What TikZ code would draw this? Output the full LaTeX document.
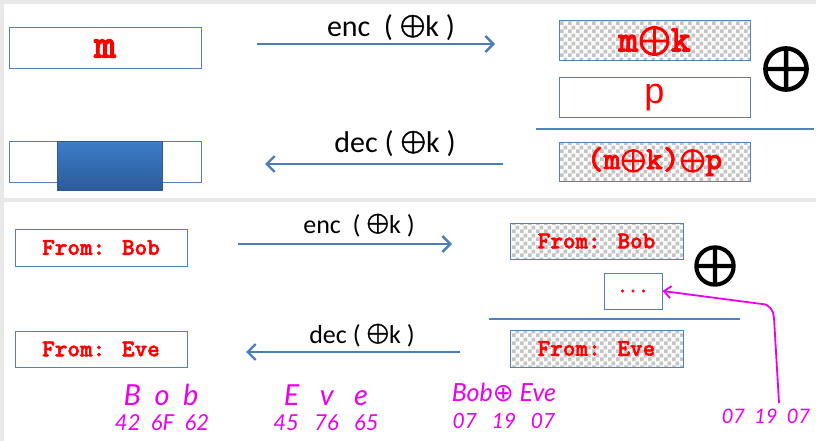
\documentclass[tikz,border=0pt]{standalone}
\usepackage{fontspec}
\usepackage{graphicx}
\setmainfont{Carlito}
\newfontfamily\psans{Liberation Sans}
\newfontfamily\symf{DejaVu Sans}
\newfontfamily\handf{Lato}
\newfontfamily\cour{lmmonolt10-bold.otf}[FakeBold=2.2]
\newfontfamily\opf{latinmodern-math.otf}[FakeBold=1.2]
\newfontfamily\opfb{latinmodern-math.otf}[FakeBold=3]
\usetikzlibrary{arrows.meta,patterns}
\definecolor{boxblue}{RGB}{79,129,189}
\definecolor{arrblue}{RGB}{74,126,187}
\definecolor{bggray}{RGB}{232,232,232}
\definecolor{inktop}{RGB}{61,124,201}
\definecolor{inkbot}{RGB}{44,92,152}
\definecolor{chkgray}{RGB}{196,196,196}
\definecolor{hand}{RGB}{236,0,236}
\pgfdeclarepatternformonly{checkfour}{\pgfpointorigin}{\pgfqpoint{8pt}{8pt}}{\pgfqpoint{8pt}{8pt}}{%
  \pgfpathrectangle{\pgfpointorigin}{\pgfqpoint{4pt}{4pt}}%
  \pgfpathrectangle{\pgfqpoint{4pt}{4pt}}{\pgfqpoint{4pt}{4pt}}%
  \pgfusepath{fill}}
% circled plus in labels
\newcommand{\bop}[2]{\raisebox{#2}{{\opf\fontsize{#1}{#1}\selectfont ⊕}}}
% bold circled plus for box texts
\newcommand{\xob}[1]{{\opfb\fontsize{#1}{#1}\selectfont ⊕}}
\begin{document}
\begin{tikzpicture}[x=1pt,y=-1pt,
  box/.style={draw=boxblue, line width=1pt, fill=white, inner sep=0pt, text=red},
  chk/.style={draw=boxblue, line width=1pt, inner sep=0pt, text=red,
     preaction={fill=white!96!gray}, pattern=checkfour, pattern color=chkgray},
  mono/.style={font=\cour\fontsize{#1}{#1}\selectfont},
  lbl/.style={anchor=base, inner sep=0pt, font=\fontsize{#1}{#1}\selectfont},
  arr/.style={draw=arrblue, line width=2.4pt, -{Straight Barb[length=8pt,width=16pt]}},
  sep/.style={draw=boxblue, line width=2.4pt},
  bigx/.style={inner sep=0pt, font=\opfb\fontsize{#1}{#1}\selectfont},
  hw/.style={anchor=base, inner sep=0pt, text=hand, font=\handf\itshape\fontsize{#1}{#1}\selectfont}
]
\useasboundingbox (0,0) rectangle (816,441);
\fill[bggray] (0,0) rectangle (816,441);
\fill[white] (4,4) rectangle (816,198);
\fill[white] (4,202) rectangle (816,441);

% ---------- top panel ----------
\node[box, minimum width=192, minimum height=41, mono=42] (m) at (105,48.5) {m};
\node[chk, minimum width=191, minimum height=40, mono=38] (mk) at (654.5,41) {m\xob{42}k};
\node[box, minimum width=191, minimum height=40, font=\psans\fontsize{36}{36}\selectfont] (p) at (654.5,98) {p};
\node[chk, minimum width=191, minimum height=39, mono=32] (mkp) at (654.5,161.5) {(m\xob{33}k)\xob{33}p};
\node[box, minimum width=192, minimum height=41] (blur) at (105,161.5) {};
\node[inner sep=0pt, minimum width=105, minimum height=49, draw=inkbot, line width=0.6pt,
      top color=inktop, bottom color=inkbot] (blurin) at (109.5,165.5) {};
\node[bigx=64] (xa) at (786,69) {⊕};

\coordinate (e1s) at (257,44); \coordinate (e1e) at (495,44);
\draw[arr] (e1s) -- (e1e);
\node[lbl=30] (enc1) at (391,37) {enc\ \ ( \bop{33}{2.5pt}k )};
\coordinate (d1s) at (503,164); \coordinate (d1e) at (265,164);
\draw[arr] (d1s) -- (d1e);
\node[lbl=30] (dec1) at (395,153) {dec ( \bop{33}{2.5pt}k )};
\coordinate (s1a) at (536,129); \coordinate (s1b) at (814,129);
\draw[sep] (s1a) -- (s1b);

% ---------- bottom panel ----------
\node[box, minimum width=172, minimum height=37, mono=24] (bob) at (101,247.5) {From: Bob};
\node[box, minimum width=172, minimum height=36, mono=24] (eve) at (101,349) {From: Eve};
\node[chk, minimum width=173, minimum height=36, mono=24] (cbob) at (596.5,241) {From: Bob};
\node[chk, minimum width=173, minimum height=37, mono=24] (ceve) at (596.5,348.5) {From: Eve};
\node[box, minimum width=58, minimum height=36, mono=20] (dots) at (633,291) {...};
\node[bigx=58] (xb) at (715,266) {⊕};

\coordinate (e2s) at (238,244); \coordinate (e2e) at (452,244);
\draw[arr] (e2s) -- (e2e);
\node[lbl=26] (enc2) at (359,233) {enc\ \ ( \bop{29}{2pt}k )};
\coordinate (d2s) at (460,352); \coordinate (d2e) at (246,352);
\draw[arr] (d2s) -- (d2e);
\node[lbl=26] (dec2) at (362,343) {dec ( \bop{29}{2pt}k )};
\coordinate (s2a) at (489,319); \coordinate (s2b) at (740,319);
\draw[sep] (s2a) -- (s2b);

% ---------- handwriting ----------
\node[hw=29] (hbob) at (161,405) {B\ \ o\ \ b};
\node[hw=22] (hbobx) at (162,430) {42\ \ 6F\ \ 62};
\node[hw=29] (heve) at (326,405) {E\ \ \ v\ \ \ e};
\node[hw=22] (hevex) at (326,430) {45\ \ \ 76\ \ \ 65};
\node[hw=25] (hxor) at (504,401) {Bob{\symf ⊕} Eve};
\node[hw=21] (hxorx) at (504,428) {07\ \ \ 19\ \ \ 07};
\node[hw=20] (hkey) at (766,423) {07\ \ 19\ \ 07};
\coordinate (hk) at (779,403);
\draw[hand, line width=1.8pt, -{Straight Barb[length=7pt,width=12pt]}]
  (hk) -- (774,318) to[out=90,in=0] (762,304) -- (dots.east);
\end{tikzpicture}
\end{document}
